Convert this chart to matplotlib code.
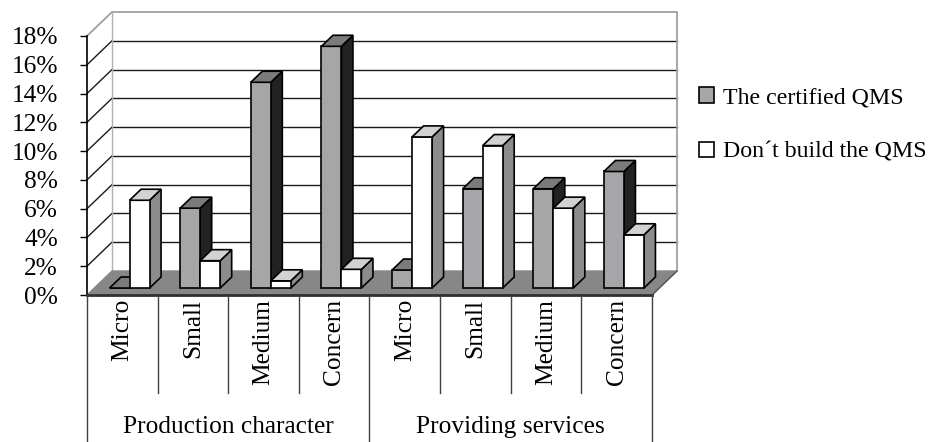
import numpy as np
import matplotlib
matplotlib.use("Agg")
import matplotlib.pyplot as plt
from matplotlib.patches import Polygon, Patch

plt.rcParams['font.family'] = ['Liberation Serif', 'DejaVu Serif']

# data (percent)
groups = ["Production character", "Providing services"]
sizes = ["Micro", "Small", "Medium", "Concern"]
categories = sizes + sizes
certified = [0.0, 5.55, 14.3, 16.8, 1.25, 6.9, 6.9, 8.1]
dont_build = [6.1, 1.9, 0.5, 1.3, 10.5, 9.9, 5.55, 3.7]
series_names = ["The certified QMS", "Don\u00b4t build the QMS"]
yticks = list(range(0, 19, 2))

W, H = 932, 442
FS = 18.3
FS_LEG = 17.2

# 3d look: depth offset of the box in data units
PX_X = 565 / 8.0      # pixels per category
PX_Y = 259 / 18.0     # pixels per percent
DX = 25 / PX_X
DY = 24 / PX_Y
D0, D1 = 0.29, 0.75   # bar depth (fraction of box depth)
BAR_W = 20 / PX_X

styles = [
    dict(front="#a6a6a8", top="#7b7b7d", side="#222222"),
    dict(front="#ffffff", top="#d2d2d2", side="#8c8c8c"),
]


def proj(x, v, d):
    return (x + d * DX, v + d * DY)


def box(ax, x0, val, st, z):
    x1 = x0 + BAR_W
    front = [proj(x0, 0, D0), proj(x1, 0, D0), proj(x1, val, D0), proj(x0, val, D0)]
    top = [proj(x0, val, D0), proj(x1, val, D0), proj(x1, val, D1), proj(x0, val, D1)]
    side = [proj(x1, 0, D0), proj(x1, 0, D1), proj(x1, val, D1), proj(x1, val, D0)]
    for pts, fc in ((side, st["side"]), (front, st["front"]), (top, st["top"])):
        ax.add_patch(Polygon(pts, closed=True, facecolor=fc, edgecolor="black",
                             linewidth=1.2, joinstyle="miter", zorder=z, clip_on=False))


fig = plt.figure(figsize=(W / 100, H / 100), dpi=100)
ax = fig.add_axes([87 / W, 147 / H, 565 / W, 259 / H])
ax.set_xlim(0, 8)
ax.set_ylim(0, 18)
for s in ax.spines.values():
    s.set_visible(False)
ax.set_xticks([])
ax.set_yticks(yticks)
ax.set_yticklabels([f"{t}%" for t in yticks], fontsize=FS)
ax.tick_params(axis="y", length=5, width=1, pad=16, colors="black")
ax.patch.set_alpha(0)

n = len(categories)
# floor
ax.add_patch(Polygon([(0, 0), (DX, DY), (n + DX, DY), (n, 0)], closed=True,
                     facecolor="#878787", edgecolor="#878787", lw=1, zorder=1, clip_on=False))
# walls and gridlines
for t in yticks[1:-1]:
    ax.plot([DX, n + DX], [t + DY, t + DY], color="#1a1a1a", lw=1, zorder=0.5, clip_on=False)
    ax.plot([0, DX], [t, t + DY], color="#1a1a1a", lw=1, zorder=0.5, clip_on=False)
top = yticks[-1]
ax.plot([0, DX, n + DX, n + DX], [top, top + DY, top + DY, DY], color="#a0a0a0",
        lw=1.3, zorder=0.5, clip_on=False)
ax.plot([DX, DX], [DY, top + DY], color="#b0b0b0", lw=1, zorder=0.5, clip_on=False)
ax.plot([n, n + DX], [0, DY], color="#555555", lw=1, zorder=1.5, clip_on=False)
ax.plot([0, 0], [0, top], color="black", lw=1.2, zorder=2, clip_on=False)

# bars
z = 3
for i in range(n):
    left = i + 0.5 - BAR_W
    box(ax, left, certified[i], styles[0], z)
    box(ax, left + BAR_W, dont_build[i], styles[1], z + 1)
    z += 2

# category table below the floor
y_sub = -98 / PX_Y
y_bot = -147 / PX_Y
ax.plot([0, n], [0, 0], color="#303030", lw=2, zorder=20, clip_on=False)
for i in range(n + 1):
    yb = y_bot if i % 4 == 0 else y_sub
    ax.plot([i, i], [0, yb], color="#404040", lw=1, zorder=20, clip_on=False)
for i, lab in enumerate(categories):
    ax.text(i + 0.5, -4 / PX_Y, lab, rotation=90, ha="center", va="top",
            fontsize=FS, clip_on=False)
for g, name in enumerate(groups):
    ax.text(g * 4 + 2, -132 / PX_Y, name, ha="center", va="center", fontsize=FS,
            clip_on=False)

handles = [Patch(facecolor=styles[0]["front"], edgecolor="black", lw=1.2),
           Patch(facecolor="white", edgecolor="black", lw=1.2)]
fig.legend(handles, series_names, loc="center left", bbox_to_anchor=(699 / W, 1 - 125 / H),
           bbox_transform=fig.transFigure, frameon=False, fontsize=FS_LEG,
           handlelength=0.62, handleheight=0.62, handletextpad=0.4, labelspacing=1.4,
           borderaxespad=0, borderpad=0)

fig.savefig("out.png", dpi=100)
